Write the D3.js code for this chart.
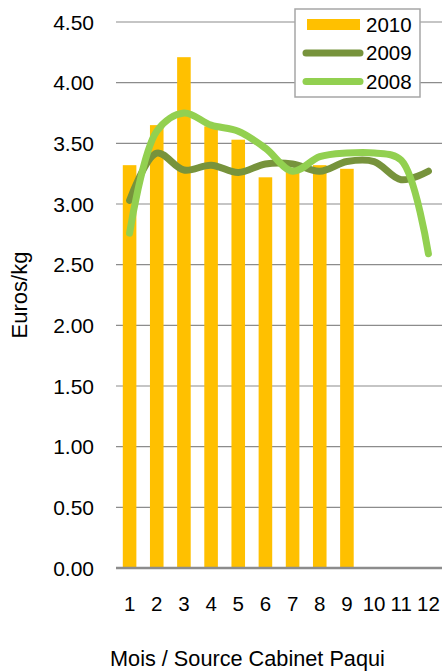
<!DOCTYPE html>
<html>
<head>
<meta charset="utf-8">
<script src="https://cdn.jsdelivr.net/npm/d3@7"></script>
<style>
  body { margin: 0; background: #fff; }
  text { font-family: "Liberation Sans", Arial, sans-serif; fill: #000; }
</style>
</head>
<body>
<svg id="canvas"></svg>
<script>
const months = ["1", "2", "3", "4", "5", "6", "7", "8", "9", "10", "11", "12"];
const values2010 = [3.32, 3.65, 4.21, 3.64, 3.53, 3.22, 3.27, 3.32, 3.29];
const values2009 = [3.03, 3.42, 3.28, 3.32, 3.26, 3.33, 3.33, 3.27, 3.35, 3.35, 3.20, 3.27];
const values2008 = [2.76, 3.60, 3.75, 3.65, 3.60, 3.46, 3.27, 3.39, 3.42, 3.42, 3.36, 2.59];
const yTicks = [0, 0.5, 1, 1.5, 2, 2.5, 3, 3.5, 4, 4.5];

const width = 445;
const height = 671;
const margin = { top: 22, right: 3, bottom: 103, left: 116 };

const svg = d3.select("#canvas")
  .attr("width", width)
  .attr("height", height);

const chartArea = svg.append("g")
  .attr("transform", `translate(${margin.left},${margin.top})`);

const chartWidth = width - margin.left - margin.right;
const chartHeight = height - margin.top - margin.bottom;

const x = d3.scaleBand()
  .domain(months)
  .range([0, chartWidth])
  .paddingInner(0.5)
  .paddingOuter(0.25);

const y = d3.scaleLinear()
  .domain([0, 4.5])
  .range([chartHeight, 0]);

// gridlines
chartArea.selectAll(".grid")
  .data(yTicks.filter(d => d > 0))
  .enter().append("line")
    .attr("x1", 0)
    .attr("x2", chartWidth)
    .attr("y1", d => y(d))
    .attr("y2", d => y(d))
    .attr("stroke", "#8c8c8c")
    .attr("stroke-width", 1.2);

// y tick labels
chartArea.selectAll(".ytick")
  .data(yTicks)
  .enter().append("text")
    .attr("x", -22)
    .attr("y", d => y(d))
    .attr("dy", "0.36em")
    .attr("text-anchor", "end")
    .style("font-size", "21px")
    .text(d => d.toFixed(2));

// bars 2010
chartArea.selectAll(".bar")
  .data(values2010)
  .enter().append("rect")
    .attr("x", (d, i) => x(months[i]))
    .attr("y", d => y(d))
    .attr("width", x.bandwidth())
    .attr("height", d => chartHeight - y(d))
    .attr("fill", "#FFC000");

const cx = (d, i) => x(months[i]) + x.bandwidth() / 2;

const line = d3.line()
  .x(cx)
  .y(d => y(d))
  .curve(d3.curveCatmullRom.alpha(0.5));

chartArea.append("path")
  .attr("d", line(values2009))
  .attr("fill", "none")
  .attr("stroke", "#77933C")
  .attr("stroke-width", 7)
  .attr("stroke-linecap", "round");

chartArea.append("path")
  .attr("d", line(values2008))
  .attr("fill", "none")
  .attr("stroke", "#92D050")
  .attr("stroke-width", 7)
  .attr("stroke-linecap", "round");

// x axis line
chartArea.append("line")
  .attr("x1", 0)
  .attr("x2", chartWidth)
  .attr("y1", chartHeight)
  .attr("y2", chartHeight)
  .attr("stroke", "#8c8c8c")
  .attr("stroke-width", 2.5);

// x tick labels
chartArea.selectAll(".xtick")
  .data(months)
  .enter().append("text")
    .attr("x", d => x(d) + x.bandwidth() / 2)
    .attr("y", chartHeight + 43)
    .attr("text-anchor", "middle")
    .style("font-size", "20.5px")
    .text(d => d);

// axis titles
svg.append("text")
  .attr("x", 110)
  .attr("y", 666)
  .style("font-size", "21.7px")
  .text("Mois / Source Cabinet Paqui");

svg.append("text")
  .attr("transform", "translate(27,295) rotate(-90)")
  .attr("text-anchor", "middle")
  .style("font-size", "22px")
  .text("Euros/kg");

// legend
const legend = svg.append("g").attr("transform", "translate(295,9)");
legend.append("rect")
  .attr("width", 125)
  .attr("height", 88)
  .attr("fill", "#fff")
  .attr("stroke", "#a6a6a6")
  .attr("stroke-width", 1.5);

const legendItems = [
  { name: "2010", color: "#FFC000", type: "bar" },
  { name: "2009", color: "#77933C", type: "line" },
  { name: "2008", color: "#92D050", type: "line" }
];

legendItems.forEach((item, i) => {
  const cy = 15.5 + i * 28.5;
  if (item.type === "bar") {
    legend.append("rect")
      .attr("x", 12).attr("y", cy - 5.5)
      .attr("width", 53).attr("height", 11)
      .attr("fill", item.color);
  } else {
    legend.append("line")
      .attr("x1", 11).attr("x2", 65)
      .attr("y1", cy).attr("y2", cy)
      .attr("stroke", item.color)
      .attr("stroke-width", 7)
      .attr("stroke-linecap", "round");
  }
  legend.append("text")
    .attr("x", 71)
    .attr("y", cy)
    .attr("dy", "0.36em")
    .style("font-size", "20.5px")
    .text(item.name);
});
</script>
</body>
</html>
